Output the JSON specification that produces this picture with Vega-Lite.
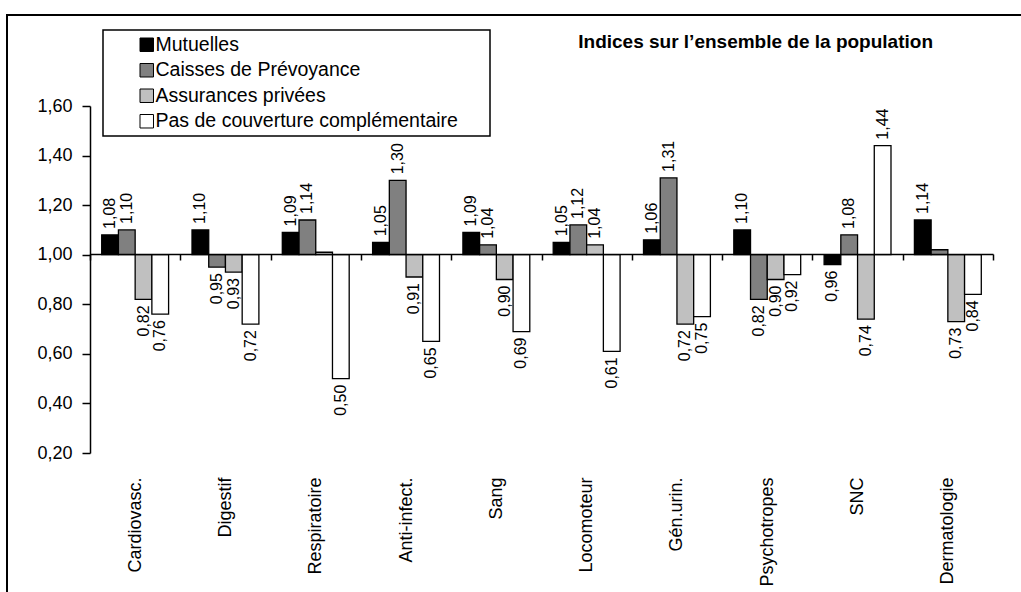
{
  "$schema": "https://vega.github.io/schema/vega-lite/v6.json",
  "width": 1014,
  "height": 577,
  "autosize": {"type": "none"},
  "padding": {"left": 7, "top": 15, "right": 0, "bottom": 0},
  "background": "white",
  "title": {
    "text": "Indices sur l’ensemble de la population",
    "anchor": "end",
    "frame": "group",
    "orient": "top",
    "offset": -52,
    "dx": -88,
    "fontSize": 19,
    "fontWeight": "bold",
    "baseline": "alphabetic",
    "color": "black"
  },
  "config": {
    "font": "Liberation Sans",
    "locale": {"number": {"decimal": ",", "thousands": " ", "grouping": [3], "currency": ["", " €"]}},
    "view": {"stroke": "black", "strokeWidth": 2, "strokeDash": [1014, 1591, 577]},
    "legend": {"strokeWidth": 1.5}
  },
  "data": {
    "values": [
      {"cat": "Cardiovasc.", "s": "Mutuelles", "v": 1.08, "lab": true},
      {"cat": "Cardiovasc.", "s": "Caisses de Prévoyance", "v": 1.10, "lab": true},
      {"cat": "Cardiovasc.", "s": "Assurances privées", "v": 0.82, "lab": true},
      {"cat": "Cardiovasc.", "s": "Pas de couverture complémentaire", "v": 0.76, "lab": true},
      {"cat": "Digestif", "s": "Mutuelles", "v": 1.10, "lab": true},
      {"cat": "Digestif", "s": "Caisses de Prévoyance", "v": 0.95, "lab": true},
      {"cat": "Digestif", "s": "Assurances privées", "v": 0.93, "lab": true},
      {"cat": "Digestif", "s": "Pas de couverture complémentaire", "v": 0.72, "lab": true},
      {"cat": "Respiratoire", "s": "Mutuelles", "v": 1.09, "lab": true},
      {"cat": "Respiratoire", "s": "Caisses de Prévoyance", "v": 1.14, "lab": true},
      {"cat": "Respiratoire", "s": "Assurances privées", "v": 1.01, "lab": false},
      {"cat": "Respiratoire", "s": "Pas de couverture complémentaire", "v": 0.50, "lab": true},
      {"cat": "Anti-infect.", "s": "Mutuelles", "v": 1.05, "lab": true},
      {"cat": "Anti-infect.", "s": "Caisses de Prévoyance", "v": 1.30, "lab": true},
      {"cat": "Anti-infect.", "s": "Assurances privées", "v": 0.91, "lab": true},
      {"cat": "Anti-infect.", "s": "Pas de couverture complémentaire", "v": 0.65, "lab": true},
      {"cat": "Sang", "s": "Mutuelles", "v": 1.09, "lab": true},
      {"cat": "Sang", "s": "Caisses de Prévoyance", "v": 1.04, "lab": true},
      {"cat": "Sang", "s": "Assurances privées", "v": 0.90, "lab": true},
      {"cat": "Sang", "s": "Pas de couverture complémentaire", "v": 0.69, "lab": true},
      {"cat": "Locomoteur", "s": "Mutuelles", "v": 1.05, "lab": true},
      {"cat": "Locomoteur", "s": "Caisses de Prévoyance", "v": 1.12, "lab": true},
      {"cat": "Locomoteur", "s": "Assurances privées", "v": 1.04, "lab": true},
      {"cat": "Locomoteur", "s": "Pas de couverture complémentaire", "v": 0.61, "lab": true},
      {"cat": "Gén.urin.", "s": "Mutuelles", "v": 1.06, "lab": true},
      {"cat": "Gén.urin.", "s": "Caisses de Prévoyance", "v": 1.31, "lab": true},
      {"cat": "Gén.urin.", "s": "Assurances privées", "v": 0.72, "lab": true},
      {"cat": "Gén.urin.", "s": "Pas de couverture complémentaire", "v": 0.75, "lab": true},
      {"cat": "Psychotropes", "s": "Mutuelles", "v": 1.10, "lab": true},
      {"cat": "Psychotropes", "s": "Caisses de Prévoyance", "v": 0.82, "lab": true},
      {"cat": "Psychotropes", "s": "Assurances privées", "v": 0.90, "lab": true},
      {"cat": "Psychotropes", "s": "Pas de couverture complémentaire", "v": 0.92, "lab": true},
      {"cat": "SNC", "s": "Mutuelles", "v": 0.96, "lab": true},
      {"cat": "SNC", "s": "Caisses de Prévoyance", "v": 1.08, "lab": true},
      {"cat": "SNC", "s": "Assurances privées", "v": 0.74, "lab": true},
      {"cat": "SNC", "s": "Pas de couverture complémentaire", "v": 1.44, "lab": true},
      {"cat": "Dermatologie", "s": "Mutuelles", "v": 1.14, "lab": true},
      {"cat": "Dermatologie", "s": "Caisses de Prévoyance", "v": 1.02, "lab": false},
      {"cat": "Dermatologie", "s": "Assurances privées", "v": 0.73, "lab": true},
      {"cat": "Dermatologie", "s": "Pas de couverture complémentaire", "v": 0.84, "lab": true}
    ]
  },
  "encoding": {
    "x": {
      "field": "cat",
      "type": "nominal",
      "scale": {
        "domain": ["Cardiovasc.", "Digestif", "Respiratoire", "Anti-infect.", "Sang", "Locomoteur", "Gén.urin.", "Psychotropes", "SNC", "Dermatologie"],
        "range": [83, 986],
        "paddingInner": 0,
        "paddingOuter": 0
      },
      "axis": {
        "title": null,
        "orient": "bottom",
        "offset": -338,
        "domainColor": "black",
        "domainWidth": 1.5,
        "tickColor": "black",
        "tickWidth": 1.5,
        "tickSize": 6,
        "tickBand": "extent",
        "labelAngle": 270,
        "labelAlign": "right",
        "labelBaseline": "middle",
        "labelPadding": 217,
        "labelFontSize": 18,
        "labelColor": "black",
        "labelLimit": 0,
        "labelOverlap": false,
        "labelFlush": false,
        "grid": false,
        "zindex": 1
      }
    },
    "xOffset": {
      "field": "s",
      "type": "nominal",
      "scale": {
        "domain": ["Mutuelles", "Caisses de Prévoyance", "Assurances privées", "Pas de couverture complémentaire"],
        "paddingOuter": 0.7,
        "paddingInner": 0
      }
    },
    "y": {
      "field": "v",
      "type": "quantitative",
      "scale": {"domain": [0.2, 1.6], "range": [438, 91], "nice": false, "zero": false},
      "axis": {
        "title": null,
        "offset": -83,
        "values": [0.2, 0.4, 0.6, 0.8, 1.0, 1.2, 1.4, 1.6],
        "format": ".2f",
        "domainColor": "black",
        "domainWidth": 1.5,
        "tickColor": "black",
        "tickWidth": 1.5,
        "tickSize": 8,
        "labelPadding": 10,
        "labelFontSize": 18,
        "labelColor": "black",
        "labelFlush": false,
        "labelOverlap": false,
        "grid": false
      }
    }
  },
  "layer": [
    {
      "mark": {"type": "bar", "stroke": "black", "strokeWidth": 1.3},
      "encoding": {
        "y2": {"datum": 1},
        "fill": {
          "field": "s",
          "type": "nominal",
          "scale": {
            "domain": ["Mutuelles", "Caisses de Prévoyance", "Assurances privées", "Pas de couverture complémentaire"],
            "range": ["#000000", "#808080", "#c0c0c0", "#ffffff"]
          },
          "legend": {
            "title": null,
            "orient": "none",
            "legendX": 96,
            "legendY": 15,
            "direction": "vertical",
            "strokeColor": "black",
            "fillColor": "white",
            "padding": 5,
            "symbolType": "square",
            "symbolSize": 182,
            "symbolStrokeColor": "black",
            "symbolStrokeWidth": 1,
            "symbolOffset": 29,
            "labelOffset": -1,
            "labelFontSize": 19.5,
            "labelColor": "black",
            "rowPadding": 4.5,
            "labelLimit": 0,
            "labelExpr": "datum.label + '\u00a0\u00a0\u00a0\u00a0\u00a0\u200b'"
          }
        }
      }
    },
    {
      "transform": [{"filter": "datum.lab && datum.v > 1"}],
      "mark": {"type": "text", "angle": 270, "align": "left", "baseline": "middle", "dx": 6, "fontSize": 16, "color": "black"},
      "encoding": {"text": {"field": "v", "type": "quantitative", "format": ".2f"}}
    },
    {
      "transform": [{"filter": "datum.lab && datum.v < 1"}],
      "mark": {"type": "text", "angle": 270, "align": "right", "baseline": "middle", "dx": -6, "fontSize": 16, "color": "black"},
      "encoding": {"text": {"field": "v", "type": "quantitative", "format": ".2f"}}
    }
  ]
}
